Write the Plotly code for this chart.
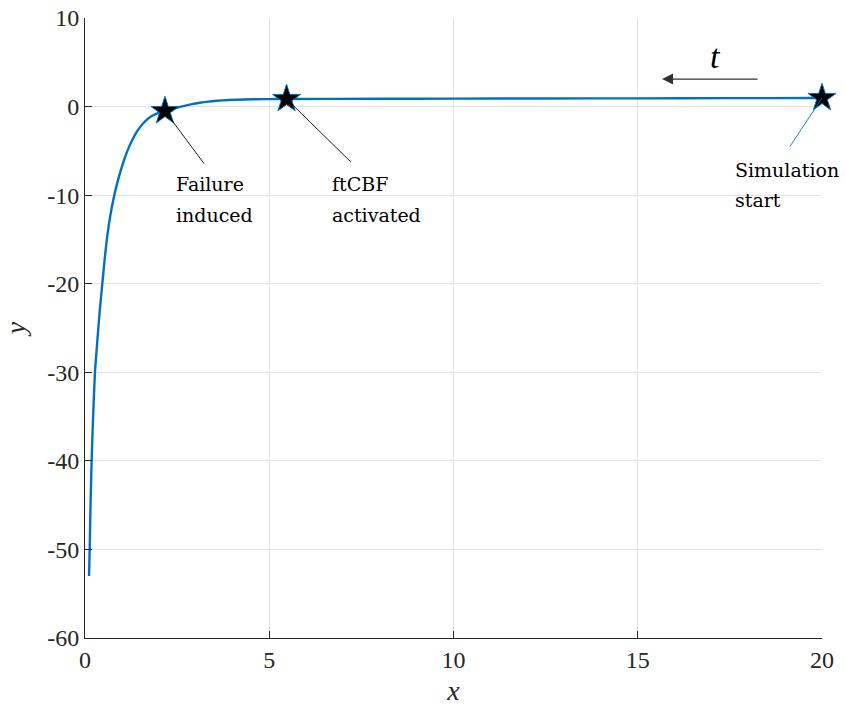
import plotly.graph_objects as go

# Trajectory samples (x, y)
traj_x = [0.11, 0.127, 0.15, 0.18, 0.22, 0.27, 0.31, 0.35, 0.41, 0.47, 0.535, 0.605, 0.70, 0.77, 0.87,
          1.0, 1.15, 1.28, 1.42, 1.6, 1.78, 1.98, 2.17, 2.42, 2.67, 2.9, 3.12, 3.35, 3.57, 3.9, 4.3, 4.93, 5.47,
          8.0, 10.0, 12.5, 15.0, 17.5, 20.0]
traj_y = [-53.0, -50.0, -45.0, -40.0, -35.0, -30.0, -27.8, -25.6, -22.6, -20.0, -17.2, -14.6, -12.0, -10.5, -8.7,
          -6.8, -5.0, -3.8, -2.75, -1.8, -1.15, -0.75, -0.5, -0.2, 0.05, 0.27, 0.43, 0.56, 0.65, 0.74, 0.8, 0.84, 0.86,
          0.88, 0.9, 0.91, 0.93, 0.95, 0.97]

# Event markers along the trajectory
event_x = [2.17, 5.47, 20.0]
event_y = [-0.5, 0.86, 0.97]
event_labels = [("Failure", "induced"), ("ftCBF", "activated"), ("Simulation", "start")]

# Axis ticks
x_ticks = [0, 5, 10, 15, 20]
x_ticklabels = ["0", "5", "10", "15", "20"]
y_ticks = [10, 0, -10, -20, -30, -40, -50, -60]
y_ticklabels = ["10", "0", "-10", "-20", "-30", "-40", "-50", "-60"]

serif = "Liberation Serif"
label_font = "DejaVu Serif"
blue = "#0072BD"
ink = "#262626"

fig = go.Figure()
fig.add_trace(go.Scatter(x=traj_x, y=traj_y, mode="lines",
                         line=dict(color=blue, width=2.4, shape="spline", smoothing=0.6),
                         showlegend=False, hoverinfo="skip"))
fig.add_trace(go.Scatter(x=event_x, y=event_y, mode="markers", cliponaxis=False,
                         marker=dict(symbol="star", size=21, color="black",
                                     line=dict(color=blue, width=1)),
                         showlegend=False, hoverinfo="skip"))

# Leader lines from markers to their labels
leader_ends = [(3.26, -6.6, "black"), (7.25, -6.4, "black"), (19.1, -4.7, blue)]
for (ex, ey), (lx, ly, col) in zip(zip(event_x, event_y), leader_ends):
    fig.add_annotation(x=ex, y=ey, ax=lx, ay=ly, axref="x", ayref="y",
                       xref="x", yref="y", text="", showarrow=True,
                       arrowhead=0, arrowwidth=0.9, arrowcolor=col,
                       standoff=0, startstandoff=0)

# Two-line labels: (left x, first-line y, second-line y)
label_pos = [(2.42, -8.76, -12.26), (6.65, -8.76, -12.26), (17.58, -7.17, -10.55)]
for (tx, ty1, ty2), (line1, line2) in zip(label_pos, event_labels):
    for ty, txt in ((ty1, line1), (ty2, line2)):
        fig.add_annotation(x=tx, y=ty, xref="x", yref="y",
                           text=txt, showarrow=False, xanchor="left", yanchor="middle",
                           align="left", font=dict(family=label_font, size=19, color="black"))

# Time direction arrow
fig.add_annotation(x=15.66, y=3.1, ax=18.29, ay=3.1, axref="x", ayref="y",
                   xref="x", yref="y", text="", showarrow=True,
                   arrowhead=2, arrowsize=2.0, arrowwidth=1.1, arrowcolor="#333333",
                   standoff=0)
fig.add_annotation(x=17.1, y=5.6, xref="x", yref="y", text="<i>t</i>",
                   showarrow=False, font=dict(family=serif, size=34, color="black"))

fig.update_xaxes(range=[0, 20], tickvals=x_ticks, ticktext=x_ticklabels,
                 showgrid=True, gridcolor="#e3e3e3", gridwidth=1, automargin=False,
                 zeroline=False, showline=True, linecolor=ink, linewidth=1,
                 ticks="inside", ticklen=7, tickcolor=ink,
                 tickfont=dict(family=serif, size=24, color=ink),
                 title=dict(text="<i>x</i>", font=dict(family=serif, size=28, color=ink),
                            standoff=8))
fig.update_yaxes(range=[-60, 10], tickvals=y_ticks, ticktext=y_ticklabels,
                 showgrid=True, gridcolor="#e3e3e3", gridwidth=1, automargin=False,
                 zeroline=False, showline=True, linecolor=ink, linewidth=1,
                 ticks="inside", ticklen=7, tickcolor=ink,
                 tickfont=dict(family=serif, size=24, color=ink),
                 title=dict(text="<i>y</i>", font=dict(family=serif, size=28, color=ink),
                            standoff=14))

fig.update_layout(width=845, height=713, plot_bgcolor="white", paper_bgcolor="white",
                  font=dict(family="Liberation Serif, serif", color="black"),
                  margin=dict(l=85, r=23, t=18, b=75), showlegend=False)

fig.write_html("out.html")
